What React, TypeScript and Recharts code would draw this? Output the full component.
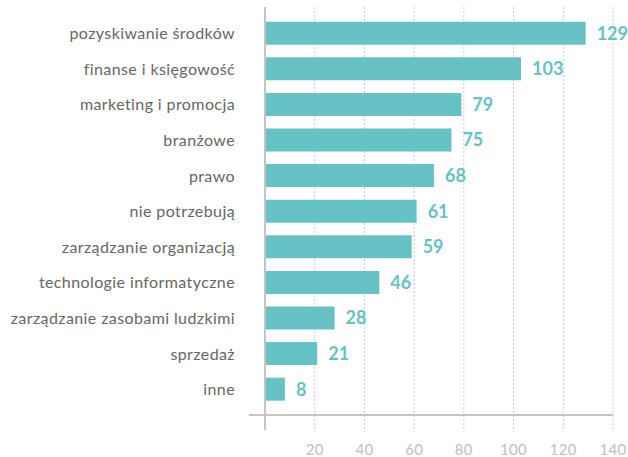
import React from "react";
import { BarChart, Bar, XAxis, YAxis, CartesianGrid, LabelList } from "recharts";

const categories = [
  "pozyskiwanie środków",
  "finanse i księgowość",
  "marketing i promocja",
  "branżowe",
  "prawo",
  "nie potrzebują",
  "zarządzanie organizacją",
  "technologie informatyczne",
  "zarządzanie zasobami ludzkimi",
  "sprzedaż",
  "inne",
];
const values = [129, 103, 79, 75, 68, 61, 59, 46, 28, 21, 8];
const xTicks = [0, 20, 40, 60, 80, 100, 120, 140];

const data = categories.map((name, i) => ({ name, value: values[i] }));

const TEAL = "#66c2c4";
const AXIS = "#c4c4c4";
const GRID = "#c4c4c4";
const FONT = "Lato, 'Open Sans', sans-serif";

const XTick = (props: any) => {
  const { x, y, payload } = props;
  const v = payload.value;
  if (v === 0) {
    return (
      <g>
        <line x1={x} y1={y} x2={x} y2={y + 15} stroke={AXIS} strokeWidth={2} />
        <line x1={x - 16} y1={y} x2={x} y2={y} stroke={AXIS} strokeWidth={2} />
      </g>
    );
  }
  return (
    <g>
      <line x1={x} y1={y} x2={x} y2={y + 15} stroke={GRID} strokeDasharray="2 2" />
      <text
        x={x}
        y={y + 34}
        textAnchor="middle"
        dominantBaseline="central"
        fill="#c0c0c0"
        fontSize={15}
        fontFamily={FONT}
        letterSpacing={0.3}
      >
        {v}
      </text>
    </g>
  );
};

export default function App() {
  return (
    <div>
      <style>{"body{margin:0}"}</style>
      <BarChart
        width={628}
        height={457}
        data={data}
        layout="vertical"
        margin={{ top: 7, right: 15, left: 8, bottom: 12 }}
        barCategoryGap={12.6}
      >
        <CartesianGrid horizontal={false} stroke={GRID} strokeDasharray="2 2" />
        <XAxis
          type="number"
          domain={[0, 140]}
          ticks={xTicks}
          height={30}
          tickSize={0}
          tickMargin={0}
          tickLine={false}
          axisLine={{ stroke: AXIS, strokeWidth: 2 }}
          tick={<XTick />}
          interval={0}
        />
        <YAxis
          type="category"
          dataKey="name"
          width={257}
          tickSize={0}
          tickMargin={30}
          tickLine={false}
          axisLine={{ stroke: AXIS, strokeWidth: 2 }}
          padding={{ top: 8.7, bottom: 7.7 }}
          interval={0}
          tick={{ fill: "#666666", fontSize: 16, fontFamily: FONT, letterSpacing: 0.4 }}
        />
        <Bar dataKey="value" fill={TEAL} barSize={23} isAnimationActive={false}>
          <LabelList
            dataKey="value"
            position="right"
            offset={11}
            fill={TEAL}
            fontSize={18}
            fontWeight="bold"
            fontFamily={FONT}
          />
        </Bar>
      </BarChart>
    </div>
  );
}
